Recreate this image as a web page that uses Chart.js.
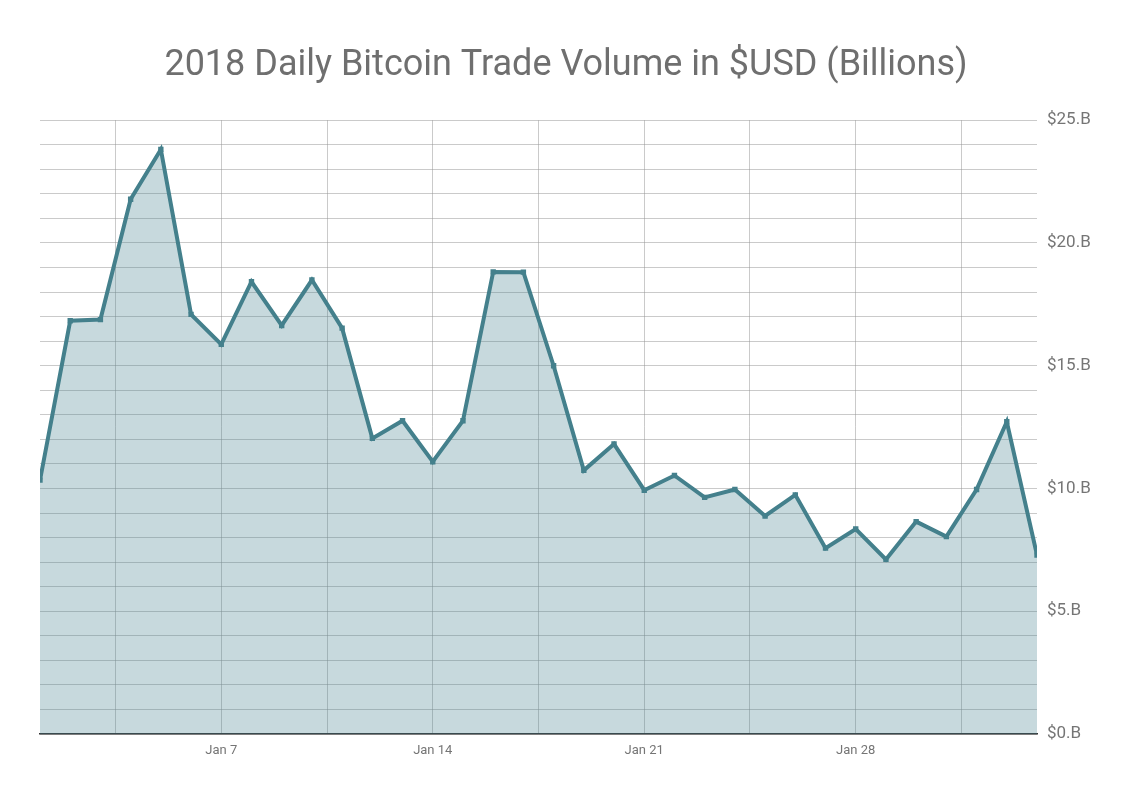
<!DOCTYPE html>
<html>
<head>
<meta charset="utf-8">
<script src="https://cdn.jsdelivr.net/npm/chart.js@4/dist/chart.umd.min.js"></script>
<style>
  html, body { margin: 0; padding: 0; background: #fff; }
  #chart { display: block; }
</style>
</head>
<body>
<canvas id="chart" width="1132" height="798"></canvas>
<script>
const days = [
  'Jan 1', 'Jan 2', 'Jan 3', 'Jan 4', 'Jan 5', 'Jan 6', 'Jan 7', 'Jan 8', 'Jan 9', 'Jan 10',
  'Jan 11', 'Jan 12', 'Jan 13', 'Jan 14', 'Jan 15', 'Jan 16', 'Jan 17', 'Jan 18', 'Jan 19', 'Jan 20',
  'Jan 21', 'Jan 22', 'Jan 23', 'Jan 24', 'Jan 25', 'Jan 26', 'Jan 27', 'Jan 28', 'Jan 29', 'Jan 30',
  'Jan 31', 'Feb 1', 'Feb 2', 'Feb 3'
];

// daily volume, billions of USD
const volumes = [
  10.34, 16.83, 16.88, 21.78, 23.81, 17.09, 15.87, 18.42, 16.64, 18.49,
  16.53, 12.04, 12.76, 11.09, 12.76, 18.82, 18.81, 15.0, 10.74, 11.81,
  9.93, 10.53, 9.64, 9.96, 8.88, 9.74, 7.57, 8.35, 7.11, 8.65,
  8.04, 9.96, 12.72, 7.29
];

// vertical grid every half week, labels on the whole weeks
const xGridDays = [2.5, 6, 9.5, 13, 16.5, 20, 23.5, 27, 30.5];
const xTickLabels = ['Jan 7', 'Jan 14', 'Jan 21', 'Jan 28'];

const yMax = 25;
const yLabelStep = 5;

const points = volumes.map((v, i) => ({ x: i, y: v }));

const chart = new Chart(document.getElementById('chart'), {
  type: 'line',
  data: {
    datasets: [
      {
        data: points,
        borderColor: '#44808c',
        backgroundColor: 'rgba(70, 128, 142, 0.3)',
        borderWidth: 4,
        fill: 'origin',
        tension: 0,
        pointStyle: 'rect',
        pointRadius: 3.8,
        pointBackgroundColor: '#44808c',
        pointBorderWidth: 0,
      },
    ],
  },
  options: {
    responsive: false,
    animation: false,
    layout: {
      padding: 0,
    },
    plugins: {
      legend: { display: false },
      tooltip: { enabled: false },
      title: {
        display: true,
        text: '2018 Daily Bitcoin Trade Volume in $USD (Billions)',
        color: '#6f6f6f',
        font: { family: 'Roboto', size: 36, weight: 'normal' },
        padding: { top: 44, bottom: 33 },
      },
    },
    scales: {
      x: {
        type: 'linear',
        min: 0,
        max: days.length - 1,
        afterBuildTicks: (scale) => {
          scale.ticks = xGridDays.map((v) => ({ value: v }));
        },
        afterFit: (scale) => {
          scale.height = 64;
        },
        grid: {
          color: 'rgba(150, 150, 150, 0.5)',
          drawTicks: false,
        },
        border: { display: true, color: '#333', width: 1.5 },
        ticks: {
          autoSkip: false,
          maxRotation: 0,
          padding: 9,
          color: '#757575',
          font: { family: 'Roboto', size: 13 },
          callback: (v) => {
            const label = Number.isInteger(v) ? days[v] : '';
            return xTickLabels.includes(label) ? label : '';
          },
        },
      },
      y: {
        position: 'right',
        min: 0,
        max: yMax,
        afterFit: (scale) => {
          scale.width = 95;
        },
        grid: {
          color: 'rgba(150, 150, 150, 0.5)',
          drawTicks: false,
        },
        border: { display: false },
        ticks: {
          stepSize: 1,
          autoSkip: false,
          padding: 10,
          color: '#757575',
          font: { family: 'Roboto', size: 17 },
          callback: (v) => (v % yLabelStep === 0 ? '$' + v + '.B' : ''),
        },
      },
      // empty left margin so the title stays centred on the page
      leftGap: {
        position: 'left',
        afterFit: (scale) => {
          scale.width = 40;
        },
        grid: { display: false },
        border: { display: false },
        ticks: { display: false },
      },
    },
  },
});
</script>
</body>
</html>
